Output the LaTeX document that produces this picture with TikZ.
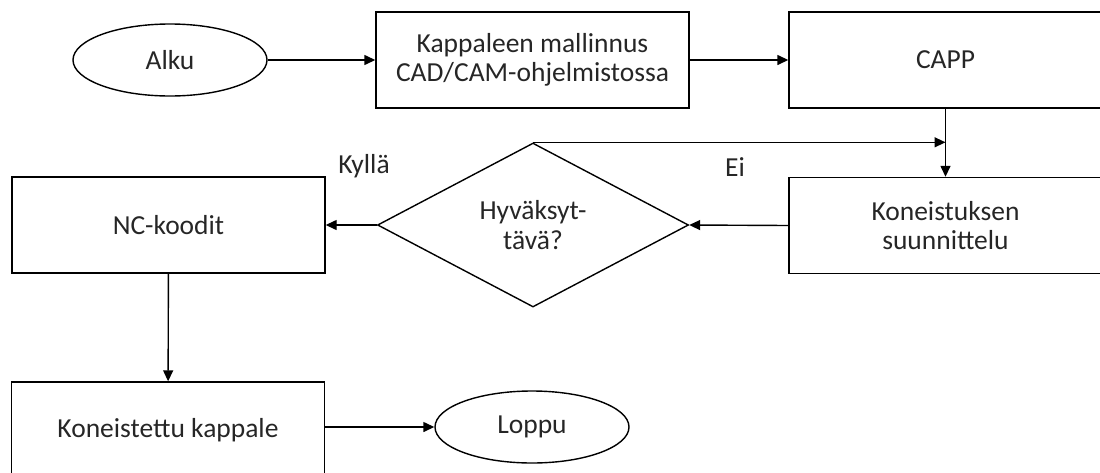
\documentclass[tikz,border=0pt]{standalone}
\usepackage{fontspec}
\setmainfont{Carlito}
\usetikzlibrary{shapes.geometric,arrows.meta}
\tikzset{
  every node/.style={font=\fontsize{27.5}{29.5}\selectfont, text=black!85, align=center},
  box/.style={draw, line width=1.4pt, rectangle, minimum width=313pt, minimum height=96pt, inner sep=0pt},
  oval/.style={draw, line width=1.4pt, ellipse, minimum width=194pt, minimum height=72pt, inner sep=0pt},
  dec/.style={draw, line width=1.4pt, diamond, aspect=1.9, minimum width=311pt, minimum height=164pt, inner sep=0pt},
  arr/.style={line width=1.4pt, -{Triangle[length=11pt,width=10pt]}},
  lbl/.style={}
}
\begin{document}
\begin{tikzpicture}[x=1pt,y=-1pt]
\useasboundingbox (0,0) rectangle (1100,472);
\node[oval] (alku) at (170,60) {Alku};
\node[box] (mall) at (532.5,60) {Kappaleen mallinnus\\CAD/CAM-ohjelmistossa};
\node[box] (capp) at (945.5,60) {CAPP};
\node[box] (kon) at (945.5,225.5) {Koneistuksen\\suunnittelu};
\node[dec] (hyv) at (533,225) {Hyväksyt-\\tävä?};
\node[box] (nc) at (168.5,225) {NC-koodit};
\node[box] (kp) at (168,430) {Koneistettu kappale};
\node[oval] (loppu) at (532,427) {Loppu};
\node[lbl] (kyl) at (364,166) {Kyllä};
\node[lbl] (ei) at (735,167) {Ei};
\coordinate (j) at (capp.south |- hyv.north);
\draw[arr] (alku) -- (mall);
\draw[arr] (mall) -- (capp);
\draw[arr] (capp) -- (kon);
\draw[arr] (hyv.north) -- (j);
\draw[arr] (kon.west) -- (hyv.east);
\draw[arr] (hyv.west) -- (nc.east);
\draw[arr] (nc) -- (kp);
\draw[arr] (kp.east |- loppu.west) -- (loppu.west);
\end{tikzpicture}
\end{document}
